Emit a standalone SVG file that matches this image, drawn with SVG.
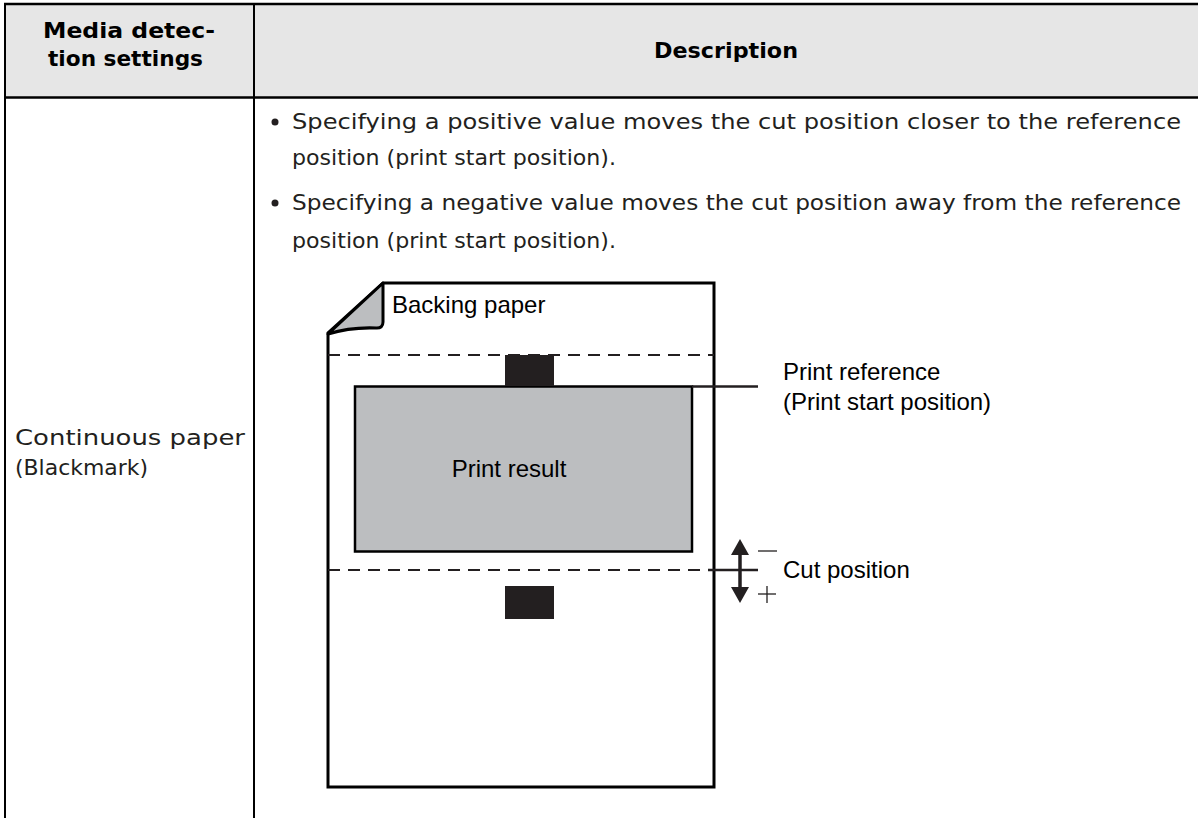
<svg xmlns="http://www.w3.org/2000/svg" width="1198" height="818" viewBox="0 0 1198 818">
<style>
.body{font-family:"DejaVu Sans","Liberation Sans",sans-serif;font-size:22px;fill:#231f20}
.hdr{font-family:"DejaVu Sans","Liberation Sans",sans-serif;font-size:22px;font-weight:bold;fill:#000}
.lbl{font-family:"Liberation Sans",Arial,sans-serif;font-size:24px;fill:#000}
.tl{stroke:#000;stroke-width:2.5;fill:none}
.pap{stroke:#000;stroke-width:3;fill:none;stroke-linejoin:miter}
.dash{stroke:#231f20;stroke-width:2;stroke-dasharray:12 8;fill:none}
.mark{fill:#231f20}
</style>
<rect width="1198" height="818" fill="#fff"/>
<g id="table">
<rect x="5" y="4" width="1193" height="93.5" fill="#e6e6e6"/>
<line class="tl" x1="4" y1="4" x2="1198" y2="4"/>
<line class="tl" x1="4" y1="97.5" x2="1198" y2="97.5"/>
<line class="tl" x1="5" y1="3" x2="5" y2="818" style="stroke-width:2"/>
<line class="tl" x1="254" y1="3" x2="254" y2="818" style="stroke-width:2"/>
</g>
<g id="header">
<text class="hdr" x="43" y="38" textLength="172" lengthAdjust="spacingAndGlyphs">Media detec-</text>
<text class="hdr" x="48" y="66" textLength="155" lengthAdjust="spacingAndGlyphs">tion settings</text>
<text class="hdr" x="654" y="58" textLength="144" lengthAdjust="spacingAndGlyphs">Description</text>
</g>
<g id="row-label">
<text class="body" x="15" y="445" textLength="230" lengthAdjust="spacingAndGlyphs">Continuous paper</text>
<text class="body" x="15" y="475" textLength="133" lengthAdjust="spacingAndGlyphs">(Blackmark)</text>
</g>
<g id="description">
<circle cx="275" cy="122" r="3.5" fill="#231f20"/>
<text class="body" x="292" y="129" textLength="889" lengthAdjust="spacingAndGlyphs">Specifying a positive value moves the cut position closer to the reference</text>
<text class="body" x="292" y="165" textLength="324" lengthAdjust="spacingAndGlyphs">position (print start position).</text>
<circle cx="275" cy="203" r="3.5" fill="#231f20"/>
<text class="body" x="292" y="210" textLength="889" lengthAdjust="spacingAndGlyphs">Specifying a negative value moves the cut position away from the reference</text>
<text class="body" x="292" y="248" textLength="324" lengthAdjust="spacingAndGlyphs">position (print start position).</text>
</g>
<g id="paper">
<path class="pap" d="M383,283 L714,283 L714,787 L328,787 L328,333 Z"/>
<path d="M383,283 L383,322 Q383,328.5 376,328 Q350,327 328,334 Z" fill="#bcbec0" stroke="#000" stroke-width="3" stroke-linejoin="round"/>
<text class="lbl" x="392" y="313">Backing paper</text>
</g>
<g id="print-result">
<rect x="355" y="386.5" width="337" height="165" fill="#bcbec0" stroke="#000" stroke-width="2.5"/>
<text class="lbl" x="509" y="477" text-anchor="middle">Print result</text>
</g>
<g id="marks">
<rect class="mark" x="505" y="355" width="49" height="31"/>
<rect class="mark" x="505" y="586" width="49" height="33"/>
</g>
<g id="connectors">
<line class="dash" x1="328" y1="355" x2="714" y2="355"/>
<line class="dash" x1="328" y1="570" x2="714" y2="570"/>
<line x1="692" y1="386.5" x2="758" y2="386.5" stroke="#231f20" stroke-width="2.5"/>
<line x1="708" y1="570" x2="758" y2="570" stroke="#231f20" stroke-width="2.5"/>
<line x1="740" y1="552" x2="740" y2="590" stroke="#231f20" stroke-width="3.5"/>
<polygon points="740,539 749,555 731,555" fill="#231f20"/>
<polygon points="740,603 749,587 731,587" fill="#231f20"/>
<line x1="758" y1="551" x2="777" y2="551" stroke="#231f20" stroke-width="1.3"/>
<line x1="758" y1="594" x2="776" y2="594" stroke="#231f20" stroke-width="1.3"/>
<line x1="767" y1="586" x2="767" y2="603" stroke="#231f20" stroke-width="1.3"/>
</g>
<g id="labels">
<text class="lbl" x="783" y="380">Print reference</text>
<text class="lbl" x="783" y="410">(Print start position)</text>
<text class="lbl" x="783" y="578">Cut position</text>
</g>
</svg>
